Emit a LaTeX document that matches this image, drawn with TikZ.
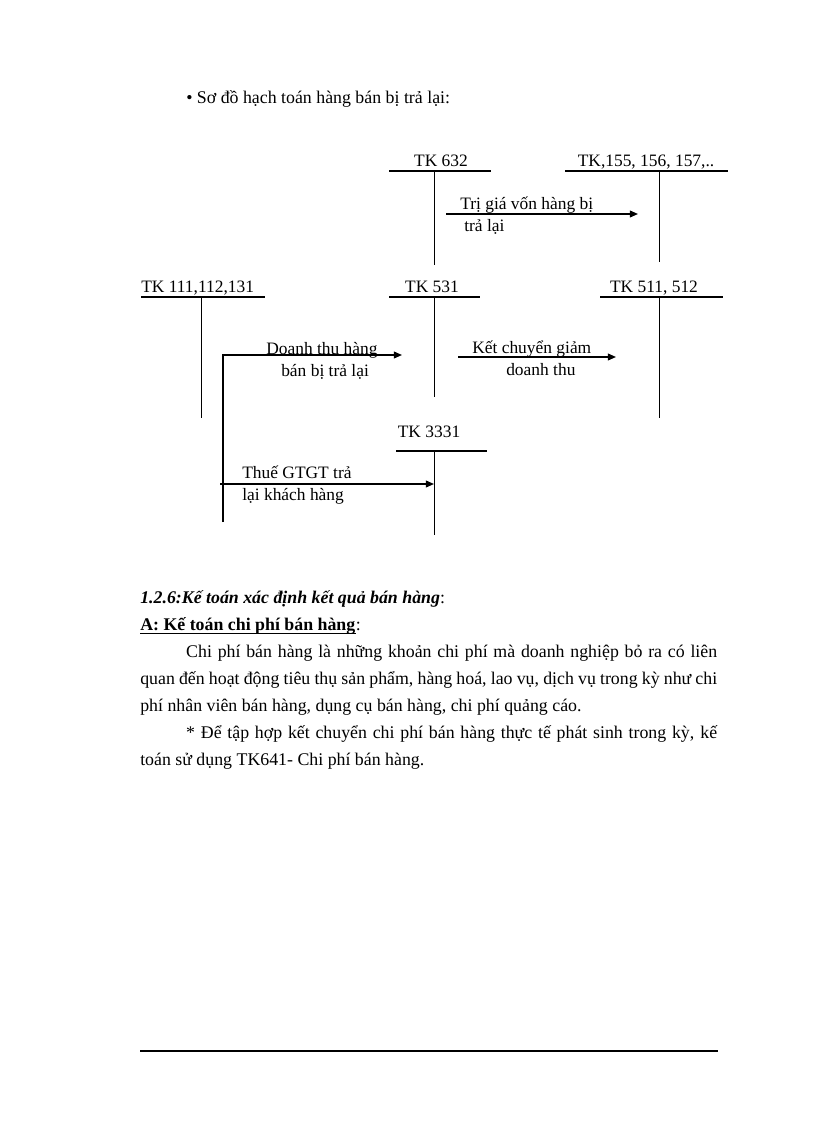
\documentclass[tikz,border=0pt]{standalone}
\usepackage{fontspec}
\setmainfont{Liberation Serif}
\usetikzlibrary{arrows.meta}

\begin{document}
\begin{tikzpicture}[x=0.729pt,y=-0.729pt,
  every node/.style={inner sep=0pt},
  acct/.style={font=\fontsize{12.7}{14}\selectfont,anchor=base},
  note/.style={font=\fontsize{12.7}{14}\selectfont,anchor=base west},
  body/.style={font=\fontsize{13}{19.7}\selectfont,anchor=base west},
  para/.style={body,text width=420.6pt,align=justify},
  rule/.style={line width=0.9pt},
  stem/.style={line width=0.7pt},
  flow/.style={line width=1.1pt,-{Triangle[length=6pt,width=5pt]}}]

\useasboundingbox (0,0) rectangle (816,1123);

\node[body] (title) at (186,104) {\textbullet\ Sơ đồ hạch toán hàng bán bị trả lại:};

% tai khoan chu T
\node[acct] (tk632) at (441,167) {TK 632};
\draw [rule] (389,171) -- (491,171);
\coordinate (s632t) at (434,171);
\coordinate (s632b) at (434,265);
\draw [stem] (s632t) -- (s632b);

\node[acct] (tk155) at (646,167) {TK,155, 156, 157,..};
\draw [rule] (565,171) -- (728,171);
\coordinate (s155t) at (659,171);
\coordinate (s155b) at (659,262);
\draw [stem] (s155t) -- (s155b);

\node[acct,anchor=base west] (tk111) at (141,292) {TK 111,112,131};
\draw [rule] (141,297) -- (265,297);
\coordinate (s111t) at (201,297);
\coordinate (s111b) at (201,418);
\draw [stem] (s111t) -- (s111b);

\node[acct] (tk531) at (432,292) {TK 531};
\draw [rule] (389,297) -- (480,297);
\coordinate (s531t) at (434,297);
\coordinate (s531b) at (434,397);
\draw [stem] (s531t) -- (s531b);

\node[acct] (tk511) at (654,292) {TK 511, 512};
\draw [rule] (600,297) -- (723,297);
\coordinate (s511t) at (659,297);
\coordinate (s511b) at (659,418);
\draw [stem] (s511t) -- (s511b);

\node[acct] (tk3331) at (429,437) {TK 3331};
\draw [rule] (396,451) -- (487,451);
\coordinate (s3331t) at (434,451);
\coordinate (s3331b) at (434,535);
\draw [stem] (s3331t) -- (s3331b);

% but toan
\coordinate (a1s) at (446,214);
\coordinate (a1e) at (638,214);
\draw [flow] (a1s) -- (a1e);
\node[note] (n1a) at (460,210) {Trị giá vốn hàng bị};
\node[note] (n1b) at (464,232) {trả lại};

\coordinate (a2s) at (223,522);
\coordinate (a2e) at (402,355);
\draw [flow] (a2s) |- (a2e);
\node[note] (n2a) at (266,354) {Doanh thu hàng};
\node[note] (n2b) at (281,376) {bán bị trả lại};

\coordinate (a3s) at (458,357);
\coordinate (a3e) at (616,357);
\draw [flow] (a3s) -- (a3e);
\node[note] (n3a) at (472,353) {Kết chuyển giảm};
\node[note] (n3b) at (506,375) {doanh thu};

\coordinate (a4s) at (220,484);
\coordinate (a4e) at (434,484);
\draw [flow] (a4s) -- (a4e);
\node[note] (n4a) at (242,478) {Thuế GTGT trả};
\node[note] (n4b) at (242,500) {lại khách hàng};

% phan van ban
\node[body] (sec126) at (140,603) {\textbf{\textit{1.2.6:Kế toán xác định kết quả bán hàng}}:};
\node[body] (secA) at (140,630) {\textbf{A: Kế toán chi phí bán hàng}};
\node[body] (secAc) at (secA.base east) {:};
\draw [line width=1.1pt] ([yshift=-2.5pt]secA.base west) -- ([yshift=-2.5pt]secA.base east);

\node[para] (p1) at (140,657) {\hyphenpenalty=10000\hspace*{33.5pt}Chi phí bán hàng là những khoản chi phí mà doanh nghiệp bỏ ra có liên\linebreak
quan đến hoạt động tiêu thụ sản phẩm, hàng hoá, lao vụ, dịch vụ trong kỳ như chi\linebreak
phí nhân viên bán hàng, dụng cụ bán hàng, chi phí quảng cáo.};
\node[para] (p2) at (140,738) {\hyphenpenalty=10000\hspace*{33.5pt}* Để tập hợp kết chuyển chi phí bán hàng thực tế phát sinh trong kỳ, kế\linebreak
toán sử dụng TK641- Chi phí bán hàng.};

\draw [line width=1.1pt] (140,1051) -- (718,1051);

\end{tikzpicture}
\end{document}
